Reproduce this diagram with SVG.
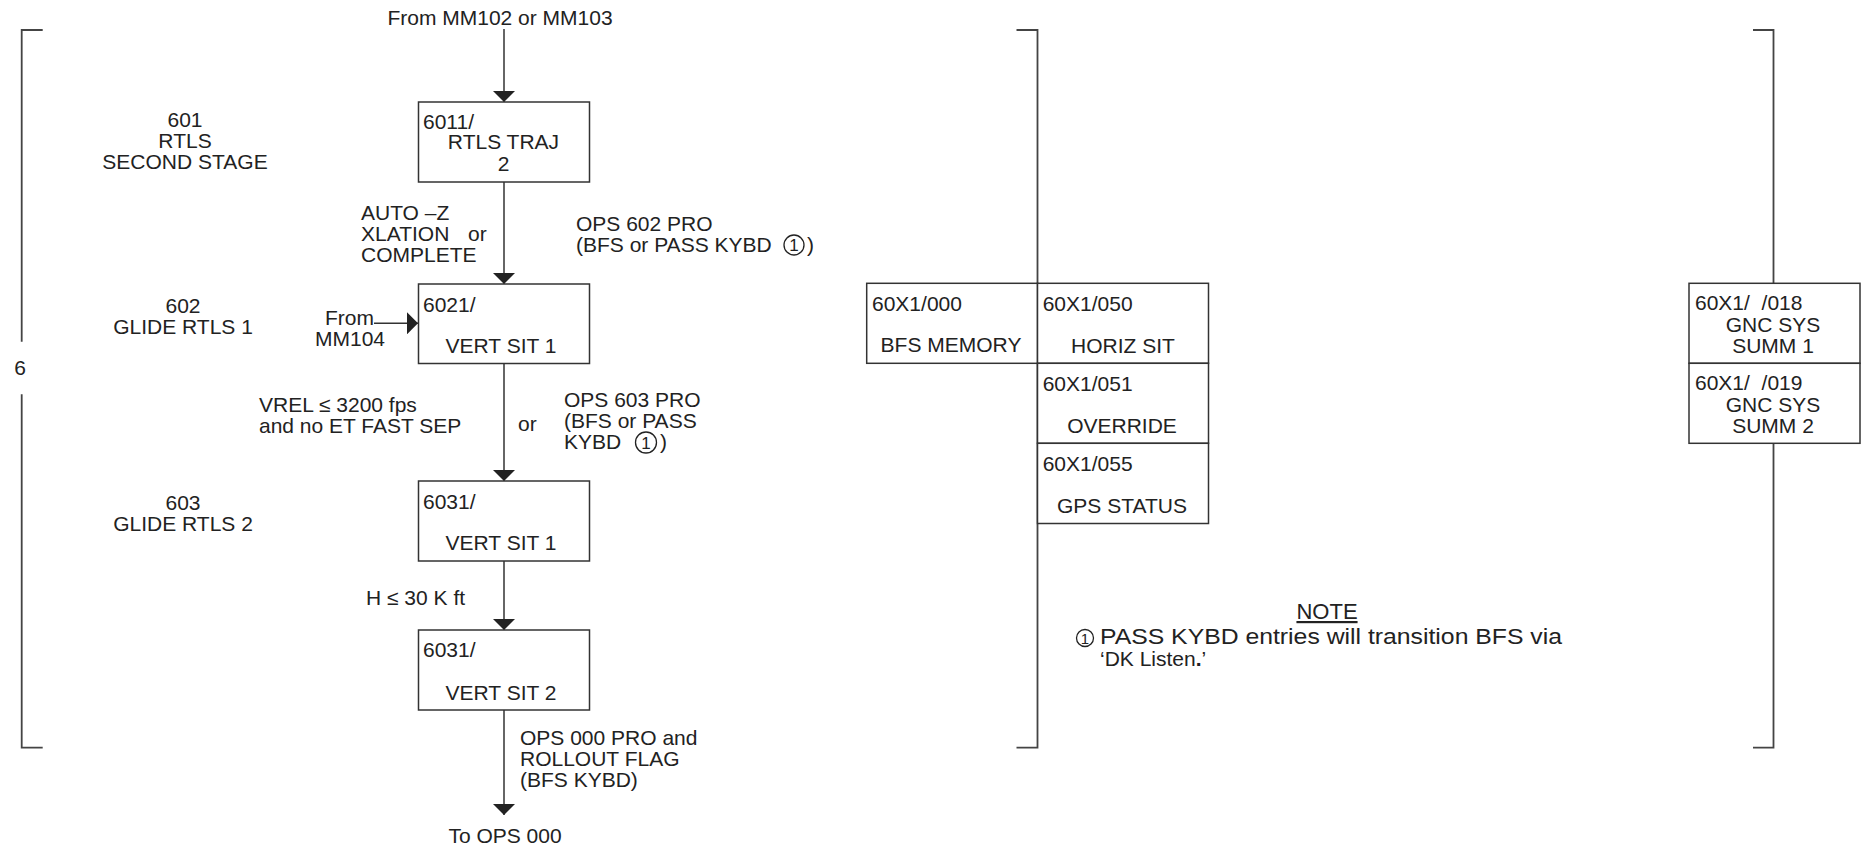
<svg xmlns="http://www.w3.org/2000/svg" width="1875" height="850" viewBox="0 0 1875 850">
<style>
text{font-family:"Liberation Sans",Arial,Helvetica,sans-serif;font-size:21px;fill:#222}
.m{text-anchor:middle}
.box{fill:#fff;stroke:#333;stroke-width:1.5}
.ln{fill:none;stroke:#333;stroke-width:1.5}
.br{fill:none;stroke:#444;stroke-width:1.8}
.cir{fill:none;stroke:#222;stroke-width:1.3}
.cn{font-size:17px;text-anchor:middle}
.nt{font-size:22px}
</style>
<defs>
<marker id="ah" markerUnits="userSpaceOnUse" viewBox="0 0 11 22" markerWidth="11" markerHeight="22" refX="11" refY="11" orient="auto">
<path d="M0,0 L11,11 L0,22 z" fill="#222"/>
</marker>
</defs>
<rect width="1875" height="850" fill="#fff"/>

<g id="brackets">
<path class="br" d="M42.7,30 H21.7 V341.7 M21.7,394.3 V747.7 H42.7"/>
<path class="br" d="M1016.5,30 H1037.5 V747.7 H1016.5"/>
<path class="br" d="M1753,30 H1773.5 V747.7 H1753"/>
<text x="20" y="375" class="m">6</text>
</g>

<g id="phase-labels">
<text x="185" y="127" class="m">601</text>
<text x="185" y="148" class="m">RTLS</text>
<text x="185" y="169" class="m">SECOND STAGE</text>
<text x="183" y="313" class="m">602</text>
<text x="183" y="333.5" class="m">GLIDE RTLS 1</text>
<text x="183" y="510" class="m">603</text>
<text x="183" y="531" class="m">GLIDE RTLS 2</text>
</g>

<g id="connectors">
<line class="ln" x1="504" y1="29" x2="504" y2="102" marker-end="url(#ah)"/>
<line class="ln" x1="504" y1="182" x2="504" y2="284" marker-end="url(#ah)"/>
<line class="ln" x1="504" y1="363" x2="504" y2="481" marker-end="url(#ah)"/>
<line class="ln" x1="504" y1="561" x2="504" y2="630" marker-end="url(#ah)"/>
<line class="ln" x1="504" y1="710" x2="504" y2="815" marker-end="url(#ah)"/>
<line class="ln" x1="374" y1="323.3" x2="418" y2="323.3" marker-end="url(#ah)"/>
</g>

<g id="connector-labels">
<text x="500" y="25" class="m">From MM102 or MM103</text>
<text x="361" y="220">AUTO –Z</text>
<text x="361" y="241">XLATION</text>
<text x="468" y="241">or</text>
<text x="361" y="262">COMPLETE</text>
<text x="576" y="231">OPS 602 PRO</text>
<text x="576" y="252">(BFS or PASS KYBD</text>
<circle class="cir" cx="794" cy="245" r="10"/>
<text x="794" y="251" class="cn">1</text>
<text x="807" y="252">)</text>
<text x="325" y="325">From</text>
<text x="315" y="345.7">MM104</text>
<text x="259" y="412">VREL ≤ 3200 fps</text>
<text x="259" y="433">and no ET FAST SEP</text>
<text x="518" y="431">or</text>
<text x="564" y="407">OPS 603 PRO</text>
<text x="564" y="428">(BFS or PASS</text>
<text x="564" y="448.5">KYBD</text>
<circle class="cir" cx="646" cy="442.5" r="10.5"/>
<text x="646" y="448.5" class="cn">1</text>
<text x="660" y="448.5">)</text>
<text x="366" y="605">H ≤ 30 K ft</text>
<text x="520" y="745">OPS 000 PRO and</text>
<text x="520" y="766">ROLLOUT FLAG</text>
<text x="520" y="787">(BFS KYBD)</text>
<text x="505" y="843" class="m">To OPS 000</text>
</g>

<g id="n6011">
<rect class="box" x="418.5" y="102" width="171" height="80"/>
<text x="423" y="129">6011/</text>
<text x="503.5" y="149" class="m">RTLS TRAJ</text>
<text x="503.5" y="171" class="m">2</text>
</g>
<g id="n6021">
<rect class="box" x="418.5" y="284" width="171" height="79.5"/>
<text x="423" y="312">6021/</text>
<text x="501" y="353" class="m">VERT SIT 1</text>
</g>
<g id="n6031a">
<rect class="box" x="418.5" y="481" width="171" height="80"/>
<text x="423" y="508.5">6031/</text>
<text x="501" y="550" class="m">VERT SIT 1</text>
</g>
<g id="n6031b">
<rect class="box" x="418.5" y="630" width="171" height="80"/>
<text x="423" y="657">6031/</text>
<text x="501" y="700" class="m">VERT SIT 2</text>
</g>

<g id="n000">
<rect class="box" x="866.7" y="283.3" width="170.8" height="80"/>
<text x="872" y="311">60X1/000</text>
<text x="951" y="352" class="m">BFS MEMORY</text>
</g>
<g id="n050">
<rect class="box" x="1037.5" y="283.3" width="171" height="80"/>
<text x="1042.7" y="311">60X1/050</text>
<text x="1123" y="353" class="m">HORIZ SIT</text>
</g>
<g id="n051">
<rect class="box" x="1037.5" y="363.3" width="171" height="80"/>
<text x="1042.7" y="391">60X1/051</text>
<text x="1122" y="433" class="m">OVERRIDE</text>
</g>
<g id="n055">
<rect class="box" x="1037.5" y="443.3" width="171" height="80.2"/>
<text x="1042.7" y="471">60X1/055</text>
<text x="1122" y="512.5" class="m">GPS STATUS</text>
</g>

<g id="n018">
<rect class="box" x="1689" y="283.3" width="171" height="80"/>
<text x="1695" y="310" xml:space="preserve">60X1/  /018</text>
<text x="1773" y="332" class="m">GNC SYS</text>
<text x="1773" y="353" class="m">SUMM 1</text>
</g>
<g id="n019">
<rect class="box" x="1689" y="363.3" width="171" height="80"/>
<text x="1695" y="390" xml:space="preserve">60X1/  /019</text>
<text x="1773" y="412" class="m">GNC SYS</text>
<text x="1773" y="432.5" class="m">SUMM 2</text>
</g>

<g id="note">
<text x="1327" y="619" class="m nt" text-decoration="underline">NOTE</text>
<circle class="cir" cx="1085" cy="638" r="8.5"/>
<text x="1085" y="643.5" style="font-size:15px" text-anchor="middle">1</text>
<text x="1100" y="644" class="nt" textLength="462" lengthAdjust="spacingAndGlyphs">PASS KYBD entries will transition BFS via</text>
<text x="1100" y="666" style="font-size:21px">‘DK Listen<tspan font-weight="bold">.</tspan>’</text>
</g>
</svg>
